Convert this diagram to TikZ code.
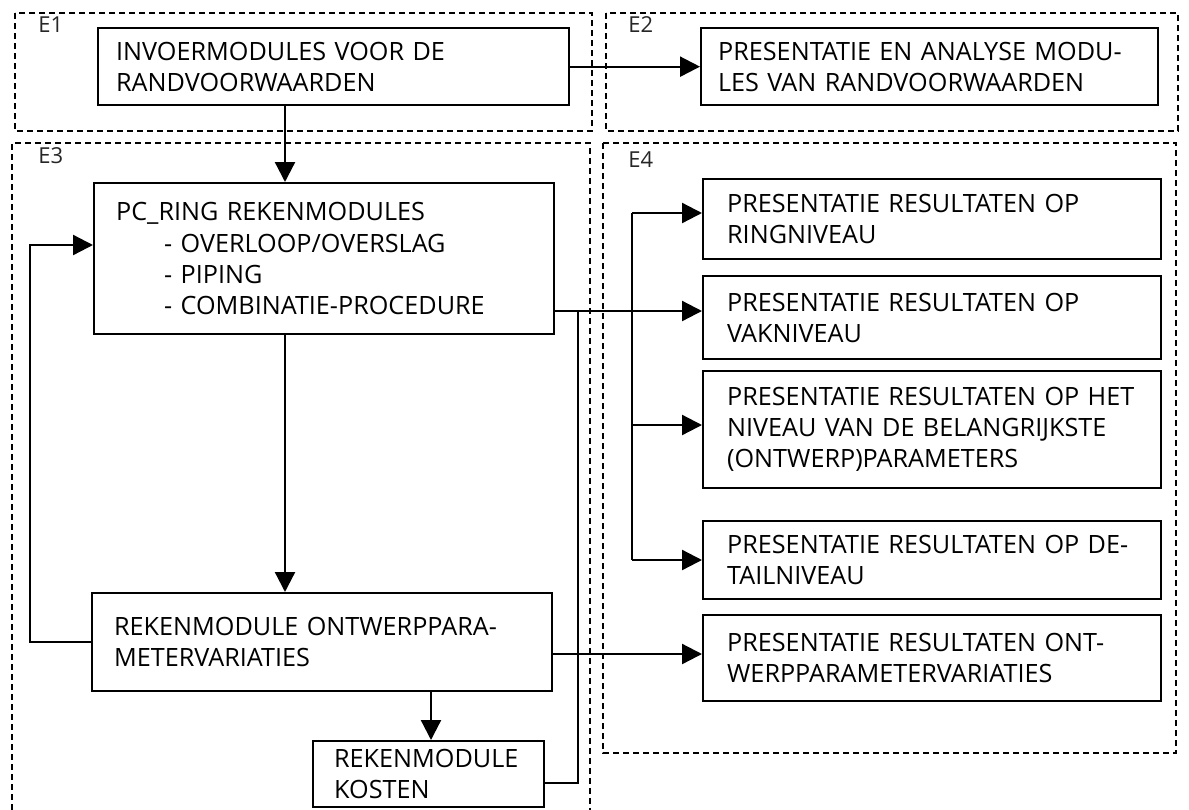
\documentclass[tikz,border=0pt]{standalone}
\usepackage{fontspec}
\setmainfont{Open Sans}
\usetikzlibrary{arrows.meta}
\begin{document}
\begin{tikzpicture}[x=0.5pt,y=-0.5pt,
  box/.style={draw,line width=1.15pt,anchor=north west,align=left,inner ysep=0pt,
    font=\fontsize{12.6}{15.6}\selectfont},
  grp/.style={draw,dash pattern=on 3pt off 2pt,line width=0.6pt},
  lab/.style={anchor=west,inner sep=0pt,text=black!85,font=\fontsize{11}{13}\selectfont},
  arr/.style={line width=1.15pt,-{Triangle[length=10pt,width=10pt]}},
  ln/.style={line width=1.15pt}]
\useasboundingbox (0,0) rectangle (1189,809);

% groups
\draw[grp] (15,13) rectangle (592,131);
\draw[grp] (606,13) rectangle (1178,131);
\draw[grp] (12,830) -- (12,143) -- (590,143) -- (590,830);
\draw[grp] (603,143) rectangle (1176,753);
\node[lab] (e1) at (38,25) {E1};
\node[lab] (e2) at (628,25) {E2};
\node[lab] (e3) at (38,156) {E3};
\node[lab] (e4) at (628,160) {E4};

% boxes
\node[box,minimum width=235.5pt,minimum height=38.5pt,inner xsep=9pt,text width=217.5pt] (b1) at (97,27)
  {INVOERMODULES VOOR DE\\RANDVOORWAARDEN};
\node[box,minimum width=228.5pt,minimum height=38.5pt,inner xsep=8.5pt,text width=211.5pt] (b2) at (700,27)
  {PRESENTATIE EN ANALYSE MODU-\\LES VAN RANDVOORWAARDEN};
\node[box,minimum width=230pt,minimum height=75.5pt,inner xsep=11pt,text width=208pt] (b3) at (93,182)
  {PC\_RING REKENMODULES\\
   \hspace*{24pt}- OVERLOOP/OVERSLAG\\
   \hspace*{24pt}- PIPING\\
   \hspace*{24pt}- COMBINATIE-PROCEDURE};
\node[box,minimum width=230pt,minimum height=49pt,inner xsep=11pt,text width=208pt] (b4) at (91,592)
  {REKENMODULE ONTWERPPARA-\\METERVARIATIES};
\node[box,minimum width=115.5pt,minimum height=33pt,inner xsep=10.5pt,text width=94.5pt] (b5) at (312,740)
  {REKENMODULE\\KOSTEN};
\node[box,minimum width=229pt,minimum height=40pt,inner xsep=12pt,text width=205pt] (b6) at (702,178)
  {PRESENTATIE RESULTATEN OP\\RINGNIVEAU};
\node[box,minimum width=229pt,minimum height=41.5pt,inner xsep=12pt,text width=205pt] (b7) at (702,275)
  {PRESENTATIE RESULTATEN OP\\VAKNIVEAU};
\node[box,minimum width=229pt,minimum height=58.5pt,inner xsep=12pt,text width=205pt] (b8) at (702,370)
  {PRESENTATIE RESULTATEN OP HET\\NIVEAU VAN DE BELANGRIJKSTE\\(ONTWERP)PARAMETERS};
\node[box,minimum width=229pt,minimum height=39pt,inner xsep=12pt,text width=205pt] (b9) at (702,520)
  {PRESENTATIE RESULTATEN OP DE-\\TAILNIVEAU};
\node[box,minimum width=229pt,minimum height=43pt,inner xsep=12pt,text width=205pt] (b10) at (702,614)
  {PRESENTATIE RESULTATEN ONT-\\WERPPARAMETERVARIATIES};

% helper coordinates
\coordinate (xa) at (285,0);
\coordinate (xk) at (431,0);
\coordinate (xl) at (30,0);
\coordinate (yl) at (0,245);
\coordinate (xr) at (578,0);
\coordinate (xbus) at (632,0);
\coordinate (y7) at (0,311);
\coordinate (y6) at (0,213);
\coordinate (y8) at (0,425);
\coordinate (y9) at (0,560);
\coordinate (y10) at (0,654);
\coordinate (y5) at (0,783);

% connectors
\draw[arr] (b1.east) -- (b2.west);
\draw[arr] (b1.south -| xa) -- (b3.north -| xa);
\draw[arr] (b3.south -| xa) -- (b4.north -| xa);
\draw[arr] (b4.south -| xk) -- (b5.north -| xk);
\draw[arr] (b4.west) -| (xl |- yl) -- (b3.west |- yl);
\draw[arr] (b3.east |- y7) -- (b7.west |- y7);
\draw[ln] (b5.east |- y5) -| (xr |- y7);
\draw[ln] (xbus |- y6) -- (xbus |- y9);
\draw[arr] (xbus |- y6) -- (b6.west |- y6);
\draw[arr] (xbus |- y8) -- (b8.west |- y8);
\draw[arr] (xbus |- y9) -- (b9.west |- y9);
\draw[arr] (b4.east |- y10) -- (b10.west |- y10);
\end{tikzpicture}
\end{document}
